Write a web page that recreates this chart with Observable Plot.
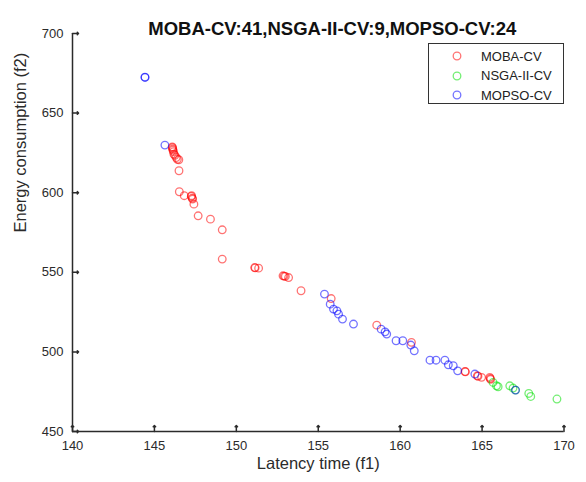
<!DOCTYPE html>
<html>
<head>
<meta charset="utf-8">
<script src="https://cdn.jsdelivr.net/npm/d3@7"></script>
<script src="https://cdn.jsdelivr.net/npm/@observablehq/plot@0.6"></script>
<style>
  html, body { margin: 0; padding: 0; background: #fff; }
  #wrap { position: relative; width: 586px; height: 482px; font-family: "Liberation Sans", Arial, sans-serif; }
  #legend { position: absolute; left: 428px; top: 43px; width: 136px; height: 61px; border: 1.5px solid #333; background: #fff; box-sizing: border-box; }
  .row { position: absolute; left: 0; height: 18px; display: flex; align-items: center; font-size: 13px; color: #222; }
  .row svg { margin-left: 23px; margin-right: 19px; }
</style>
</head>
<body>
<div id="wrap"></div>
<script>
const titleText = "MOBA-CV:41,NSGA-II-CV:9,MOPSO-CV:24";
const xLabel = "Latency time (f1)";
const yLabel = "Energy consumption (f2)";
const xTicks = [140, 145, 150, 155, 160, 165, 170];
const yTicks = [450, 500, 550, 600, 650, 700];
const seriesNames = ["MOBA-CV", "NSGA-II-CV", "MOPSO-CV"];
const seriesColors = ["#ff0000", "#00e000", "#0000ff"];

const mobaX = [146.09, 146.13, 146.19, 146.33, 146.49, 146.50, 146.52, 146.82, 147.27, 147.31,
  147.41, 147.67, 148.42, 149.14, 149.14, 151.12, 151.36, 152.85, 152.99, 153.19,
  153.95, 155.79, 158.57, 160.69, 163.96, 164.71, 164.97, 165.47, 165.52,
  146.10, 146.12, 146.16, 146.25, 146.40, 147.25, 147.33, 152.92, 165.50, 164.75, 151.15, 163.98];
const mobaY = [628.8, 626.8, 624.2, 622.1, 620.7, 613.8, 600.6, 598.1, 598.1, 596.6,
  592.8, 585.5, 583.4, 576.7, 558.3, 553.0, 552.6, 547.8, 547.4, 546.7,
  538.4, 533.5, 516.8, 506.0, 487.7, 485.0, 484.0, 484.0, 482.8,
  628.3, 627.5, 625.8, 623.5, 621.0, 597.6, 596.0, 547.6, 483.3, 484.7, 552.8, 487.5];

const nsgaX = [165.67, 165.88, 165.98, 166.69, 166.89, 167.85, 167.97, 169.57, 167.04];
const nsgaY = [480.8, 478.7, 478.1, 478.7, 477.3, 473.9, 472.0, 470.4, 476.0];

const mopsoX = [144.42, 144.43, 145.64, 155.38, 155.73, 155.93, 156.14, 156.24, 156.48, 157.15,
  158.84, 159.08, 159.18, 159.75, 160.16, 160.65, 160.86, 161.82, 162.19, 162.73,
  162.94, 163.24, 163.51, 164.56, 167.04];
const mopsoY = [672.6, 672.4, 629.9, 536.3, 530.0, 526.9, 525.8, 523.7, 520.6, 517.5,
  514.3, 512.6, 511.2, 507.0, 507.0, 504.3, 500.7, 494.8, 494.8, 494.8,
  491.9, 491.3, 488.1, 486.1, 476.0];

const data = [];
mobaX.forEach((x, i) => data.push({x, y: mobaY[i], s: seriesNames[0]}));
nsgaX.forEach((x, i) => data.push({x, y: nsgaY[i], s: seriesNames[1]}));
mopsoX.forEach((x, i) => data.push({x, y: mopsoY[i], s: seriesNames[2]}));

const font = "Liberation Sans, Arial, sans-serif";
const axisColor = "#2b2b2b";
const W = 586, H = 482, mL = 72, mR = 22.5, mT = 33, mB = 51;
const tickLen = 6;
const xDom = [140, 170], yDom = [450, 700];

const chart = Plot.plot({
  width: W,
  height: H,
  marginLeft: mL,
  marginRight: mR,
  marginTop: mT,
  marginBottom: mB,
  style: {fontFamily: font, background: "#fff", color: axisColor},
  x: {domain: xDom},
  y: {domain: yDom},
  color: {domain: seriesNames, range: seriesColors},
  marks: [
    Plot.axisX({ticks: xTicks, tickSize: 0, tickPadding: 9, fontSize: 13, label: null, fill: axisColor}),
    Plot.axisY({ticks: yTicks, tickSize: 0, tickPadding: 9, fontSize: 13, label: null, fill: axisColor}),
    Plot.vector(xTicks, {x: d => d, y: yDom[0], length: tickLen, rotate: 0, anchor: "start", stroke: axisColor, strokeWidth: 1.5}),
    Plot.vector(yTicks, {x: xDom[0], y: d => d, length: tickLen, rotate: 90, anchor: "start", stroke: axisColor, strokeWidth: 1.5}),
    Plot.ruleX([xDom[0]], {stroke: axisColor, strokeWidth: 1.5}),
    Plot.ruleY([yDom[0]], {stroke: axisColor, strokeWidth: 1.5}),
    Plot.dot(data, {x: "x", y: "y", stroke: "s", r: 3.8, strokeWidth: 1.3, strokeOpacity: 0.55, fill: "none"}),
    Plot.text([xLabel], {text: d => d, frameAnchor: "bottom", dy: 37, fontSize: 16.5, fill: axisColor}),
    Plot.text([yLabel], {text: d => d, frameAnchor: "left", dx: -52, rotate: -90, fontSize: 16.5, fill: axisColor}),
    Plot.text([titleText], {text: d => d, frameAnchor: "top", dy: -12, dx: 14, fontSize: 18.5, fontWeight: "bold", fill: "#111"})
  ]
});

const wrap = document.getElementById("wrap");
wrap.appendChild(chart);

const legend = document.createElement("div");
legend.id = "legend";
seriesNames.forEach((name, i) => {
  const row = document.createElement("div");
  row.className = "row";
  row.style.top = (3 + i * 19.5) + "px";
  row.innerHTML = `<svg width="10" height="10"><circle cx="5" cy="5" r="3.8" fill="none" stroke="${seriesColors[i]}" stroke-opacity="0.55" stroke-width="1.3"/></svg><span>${name}</span>`;
  legend.appendChild(row);
});
wrap.appendChild(legend);
</script>
</body>
</html>
